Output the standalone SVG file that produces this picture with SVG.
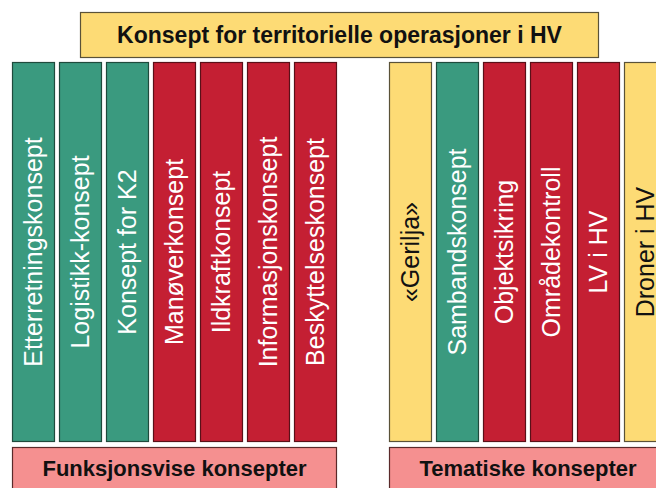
<svg xmlns="http://www.w3.org/2000/svg" width="656" height="488" viewBox="0 0 656 488">
<style>
.box{stroke-width:1.2}
.g{fill:#3a9a7f;stroke:#1f4a3c}
.r{fill:#c41f33;stroke:#5a1018}
.y{fill:#fddb75;stroke:#5a5238}
.p{fill:#f59090;stroke:#5a2a2a}
text{font-family:"Liberation Sans",Arial,sans-serif;text-anchor:middle}
.ct{font-size:25px;fill:#fff}
.cy{font-size:25px;fill:#111}
.hd{font-size:23px;font-weight:bold;fill:#111}
.ft{font-size:22px;font-weight:bold;fill:#111}
</style>
<rect width="656" height="488" fill="#fff"/>
<g id="title"><rect class="box y" x="80.5" y="12.5" width="518" height="45"/><text class="hd" x="339.5" y="42.5">Konsept for territorielle operasjoner i HV</text></g>
<g id="c1"><rect class="box g" x="12.5" y="62.5" width="42" height="379"/><text class="ct" transform="translate(33.5,252) rotate(-90)" y="8.5">Etterretningskonsept</text></g>
<g id="c2"><rect class="box g" x="59.5" y="62.5" width="42" height="379"/><text class="ct" transform="translate(80.5,252) rotate(-90)" y="8.5">Logistikk-konsept</text></g>
<g id="c3"><rect class="box g" x="106.5" y="62.5" width="42" height="379"/><text class="ct" transform="translate(127.5,252) rotate(-90)" y="8.5">Konsept for K2</text></g>
<g id="c4"><rect class="box r" x="153.5" y="62.5" width="42" height="379"/><text class="ct" transform="translate(174.5,252) rotate(-90)" y="8.5">Manøverkonsept</text></g>
<g id="c5"><rect class="box r" x="200.5" y="62.5" width="42" height="379"/><text class="ct" transform="translate(221.5,252) rotate(-90)" y="8.5">Ildkraftkonsept</text></g>
<g id="c6"><rect class="box r" x="247.5" y="62.5" width="42" height="379"/><text class="ct" transform="translate(268.5,252) rotate(-90)" y="8.5">Informasjonskonsept</text></g>
<g id="c7"><rect class="box r" x="294.5" y="62.5" width="42" height="379"/><text class="ct" transform="translate(315.5,252) rotate(-90)" y="8.5">Beskyttelseskonsept</text></g>
<g id="t1"><rect class="box y" x="389.5" y="62.5" width="42" height="379"/><text class="cy" transform="translate(410.5,252) rotate(-90)" y="8.5">«Gerilja»</text></g>
<g id="t2"><rect class="box g" x="436.5" y="62.5" width="42" height="379"/><text class="ct" transform="translate(457.5,252) rotate(-90)" y="8.5">Sambandskonsept</text></g>
<g id="t3"><rect class="box r" x="483.5" y="62.5" width="42" height="379"/><text class="ct" transform="translate(504.5,252) rotate(-90)" y="8.5">Objektsikring</text></g>
<g id="t4"><rect class="box r" x="530.5" y="62.5" width="42" height="379"/><text class="ct" transform="translate(551.5,252) rotate(-90)" y="8.5">Områdekontroll</text></g>
<g id="t5"><rect class="box r" x="577.5" y="62.5" width="42" height="379"/><text class="ct" transform="translate(598.5,252) rotate(-90)" y="8.5">LV i HV</text></g>
<g id="t6"><rect class="box y" x="624.5" y="62.5" width="42" height="379"/><text class="cy" transform="translate(645.5,252) rotate(-90)" y="8.5">Droner i HV</text></g>
<g id="funk"><rect class="box p" x="12.5" y="447.5" width="324" height="45"/><text class="ft" x="174.5" y="476">Funksjonsvise konsepter</text></g>
<g id="tema"><rect class="box p" x="389.5" y="447.5" width="277" height="45"/><text class="ft" x="528" y="476">Tematiske konsepter</text></g>
<g id="connectors"></g>
</svg>
